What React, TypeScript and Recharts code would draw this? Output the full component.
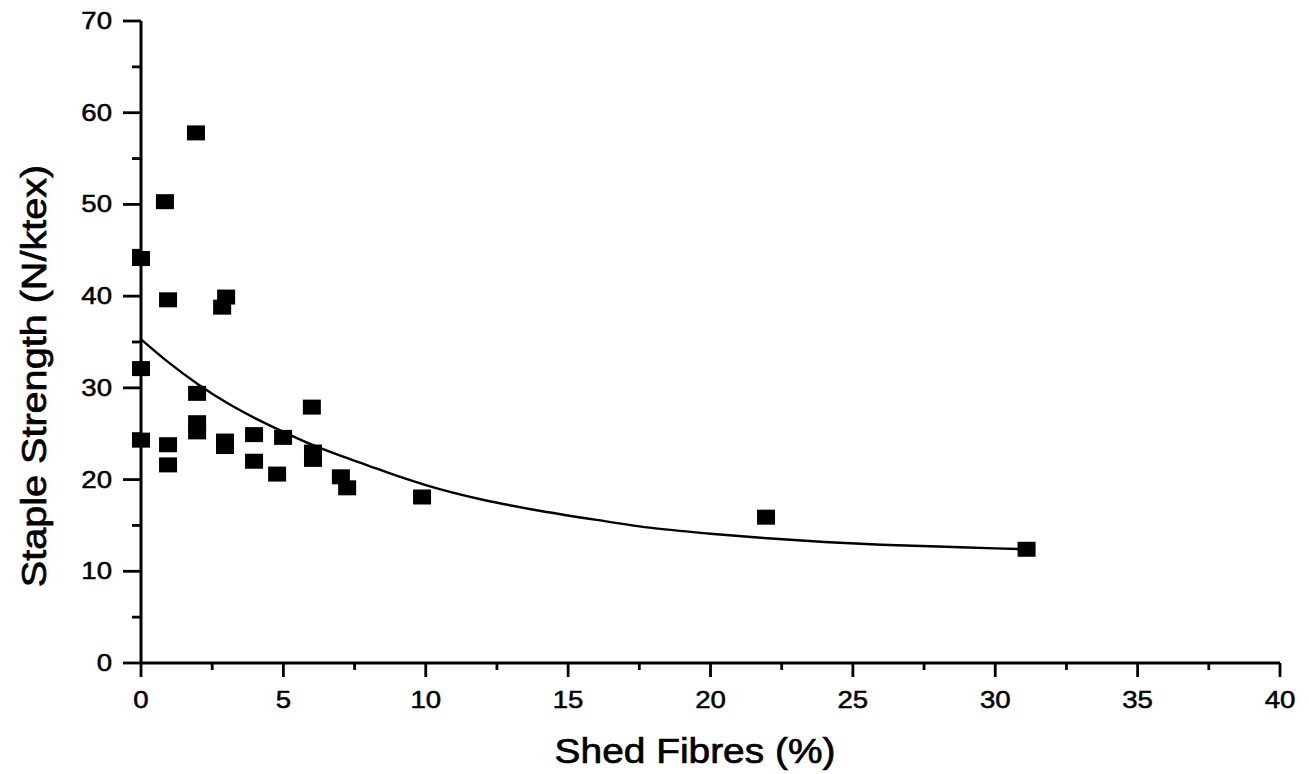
import React from 'react';
import { ScatterChart, Scatter, XAxis, YAxis } from 'recharts';

// Measured points: Shed Fibres (%) vs Staple Strength (N/ktex)
const shedFibres = [0, 0, 0, 0.84, 0.95, 0.95, 0.95, 1.93, 1.97, 1.97, 1.97, 2.85, 2.99, 2.95, 2.95, 3.97, 3.97, 4.99, 4.78, 6.0, 6.04, 6.04, 7.02, 7.24, 9.87, 21.95, 31.1];
const stapleStrength = [44.1, 32.1, 24.3, 50.3, 39.6, 23.8, 21.6, 57.8, 29.4, 26.2, 25.2, 38.8, 39.9, 24.2, 23.6, 24.9, 22.0, 24.6, 20.6, 27.9, 23.0, 22.2, 20.3, 19.1, 18.1, 15.9, 12.4];

// Fitted curve
const fitX = [0, 1, 2, 3, 4, 5, 6, 7, 8, 9, 10, 12, 14, 16, 18, 20, 22, 24, 26, 28, 30, 31.1];
const fitY = [35.3, 32.7, 30.4, 28.4, 26.7, 25.2, 23.8, 22.6, 21.5, 20.4, 19.4, 17.8, 16.6, 15.6, 14.7, 14.1, 13.6, 13.2, 12.9, 12.7, 12.5, 12.4];

const xTicks = [0, 2.5, 5, 7.5, 10, 12.5, 15, 17.5, 20, 22.5, 25, 27.5, 30, 32.5, 35, 37.5, 40];
const yTicks = [0, 5, 10, 15, 20, 25, 30, 35, 40, 45, 50, 55, 60, 65, 70];

const xTitle = 'Shed Fibres (%)';
const yTitle = 'Staple Strength (N/ktex)';

const points = shedFibres.map((x, i) => ({ x, y: stapleStrength[i] }));
const curve = fitX.map((x, i) => ({ x, y: fitY[i] }));

const FONT = '"Liberation Sans", Arial, Helvetica, sans-serif';

const XTick = (props: any) => {
  const { x, y, payload } = props;
  const v = payload.value;
  const major = v % 5 === 0;
  return (
    <g>
      <line x1={x} x2={x} y1={y} y2={y + (major ? 14 : 7)} stroke="#000" strokeWidth={2.8} />
      {major && (
        <text
          transform={`translate(${x},${y + 45}) scale(1.2,1)`}
          textAnchor="middle"
          fontSize={23}
          fontFamily={FONT}
          fill="#000"
          stroke="#000"
          strokeWidth={0.5}
        >
          {v}
        </text>
      )}
    </g>
  );
};

const YTick = (props: any) => {
  const { x, y, payload } = props;
  const v = payload.value;
  const major = v % 10 === 0;
  return (
    <g>
      <line x1={x - (major ? 18 : 9)} x2={x} y1={y} y2={y} stroke="#000" strokeWidth={2.8} />
      {major && (
        <text
          transform={`translate(${x - 29},${y + 8}) scale(1.2,1)`}
          textAnchor="end"
          fontSize={23}
          fontFamily={FONT}
          fill="#000"
          stroke="#000"
          strokeWidth={0.5}
        >
          {v}
        </text>
      )}
    </g>
  );
};

const XTitle = () => (
  <text
    transform="translate(695,763) scale(1.08,1)"
    textAnchor="middle"
    fontSize={36}
    fontFamily={FONT}
    fill="#000"
    stroke="#000"
    strokeWidth={0.7}
  >
    {xTitle}
  </text>
);

const YTitle = () => (
  <text
    transform="translate(46,376) rotate(-90) scale(1.1,1)"
    textAnchor="middle"
    fontSize={36}
    fontFamily={FONT}
    fill="#000"
    stroke="#000"
    strokeWidth={0.7}
  >
    {yTitle}
  </text>
);

const SquareMark = (p: any) => (
  <rect x={p.cx - 9} y={p.cy - 7.5} width={18} height={15} fill="#000" />
);

const NoMark = () => <g />;

export default function App() {
  return (
    <div style={{ position: 'absolute', left: 0, top: 0, background: '#fff' }}>
      <ScatterChart
        width={1309}
        height={774}
        margin={{ top: 21, right: 29, bottom: 0, left: 0 }}
      >
        <XAxis
          type="number"
          dataKey="x"
          domain={[0, 40]}
          ticks={xTicks}
          interval={0}
          tickSize={0}
          tickMargin={0}
          tickLine={false}
          tick={<XTick />}
          axisLine={{ stroke: '#000', strokeWidth: 3 }}
          height={111}
          label={{ content: XTitle }}
        />
        <YAxis
          type="number"
          dataKey="y"
          domain={[0, 70]}
          ticks={yTicks}
          interval={0}
          tickSize={0}
          tickMargin={0}
          tickLine={false}
          tick={<YTick />}
          axisLine={{ stroke: '#000', strokeWidth: 3 }}
          width={141}
          label={{ content: YTitle }}
        />
        <Scatter
          data={curve}
          line={{ stroke: '#000', strokeWidth: 2.4 }}
          lineJointType="monotoneX"
          shape={NoMark}
          isAnimationActive={false}
        />
        <Scatter
          data={points}
          shape={SquareMark}
          fill="#000"
          isAnimationActive={false}
        />
      </ScatterChart>
    </div>
  );
}
